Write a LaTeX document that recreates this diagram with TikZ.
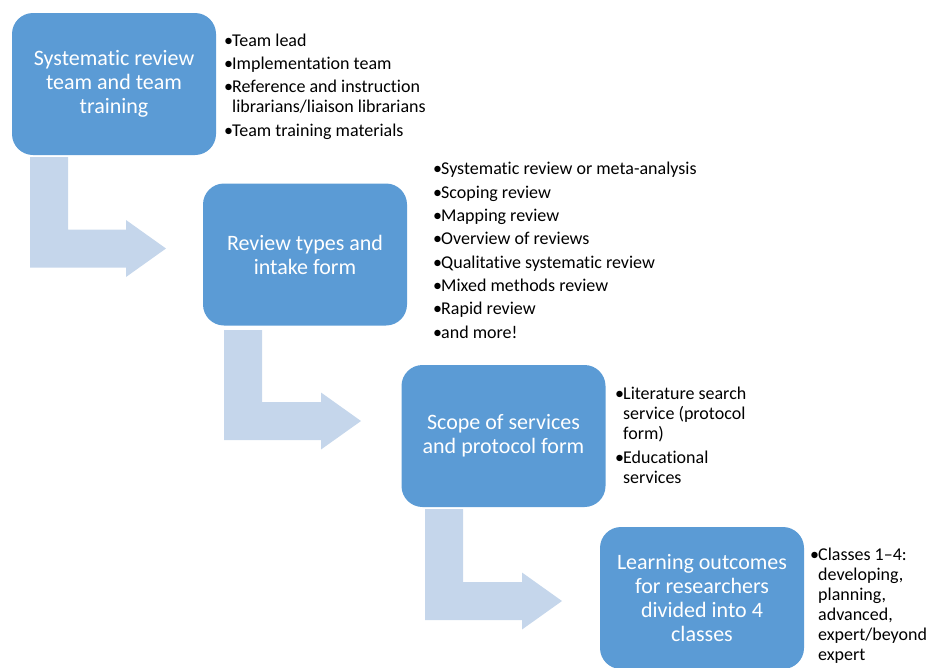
\documentclass[tikz,border=0pt]{standalone}
\usepackage{fontspec}
\setmainfont{Carlito}[RawFeature={-liga;-dlig;-calt;-clig}]
\definecolor{boxblue}{HTML}{5B9BD5}
\definecolor{arrowblue}{HTML}{C5D6EB}
\newcommand{\bul}{\makebox[8pt][l]{•}}
\newcommand{\ind}{\hspace*{8pt}}
\newcommand{\bentarrow}[4]{%
  \fill[arrowblue] (#1,#2) -- (#1+38,#2) -- (#1+38,#3-19) -- (#4-40,#3-19)
    -- (#4-40,#3-28.5) -- (#4,#3) -- (#4-40,#3+28.5) -- (#4-40,#3+19)
    -- (#1,#3+19) -- cycle;}
\begin{document}
\begin{tikzpicture}[x=1pt,y=-1pt,
  stagebox/.style={fill=boxblue, rounded corners=21pt, minimum width=204pt,
    minimum height=142pt, inner sep=0pt, text=white, align=center,
    font=\fontsize{22}{24}\selectfont},
  bulletlist/.style={anchor=base west, inner sep=0pt, align=left,
    font=\fontsize{18}{20}\selectfont, text=black}]
\useasboundingbox (0,0) rectangle (931,667);

\node[stagebox] (b1) at (114,84) {Systematic review\\team and team\\training};
\node[stagebox] (b2) at (305,254.5) {Review types and\\intake form};
\node[stagebox] (b3) at (503.5,436) {Scope of services\\and protocol form};
\node[stagebox] (b4) at (702,598) {Learning outcomes\\for researchers\\divided into 4\\classes};

\bentarrow{30}{157}{248.5}{166}
\bentarrow{224}{330}{421}{361}
\bentarrow{425}{509}{601}{562}

% base anchor = baseline of the last line
\node[bulletlist] (l1) at (224,136) {\bul Team lead\\[3.3pt]
\bul Implementation team\\[3.3pt]
\bul Reference and instruction\\
\ind librarians/liaison librarians\\[3.3pt]
\bul Team training materials};

\node[bulletlist] (l2) at (433,338) {\bul Systematic review or meta-analysis\\[3.3pt]
\bul Scoping review\\[3.3pt]
\bul Mapping review\\[3.3pt]
\bul Overview of reviews\\[3.3pt]
\bul Qualitative systematic review\\[3.3pt]
\bul Mixed methods review\\[3.3pt]
\bul Rapid review\\[3.3pt]
\bul and more!};

\node[bulletlist] (l3) at (615,483) {\bul Literature search\\
\ind service (protocol\\
\ind form)\\[3.3pt]
\bul Educational\\
\ind services};

\node[bulletlist] (l4) at (810,660) {\bul Classes 1–4:\\
\ind developing,\\
\ind planning,\\
\ind advanced,\\
\ind expert/beyond\\
\ind expert};
\end{tikzpicture}
\end{document}
